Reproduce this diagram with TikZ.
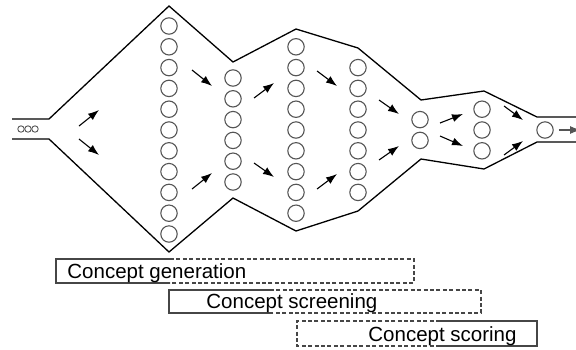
\documentclass[tikz,border=0pt]{standalone}
\usepackage{fontspec}
\setmainfont{Liberation Sans}
\usetikzlibrary{arrows.meta}
\definecolor{beadgray}{RGB}{85,85,85}
\definecolor{bargray}{RGB}{70,70,70}
\tikzset{
  outline/.style={line width=0.65pt,draw=black,line join=miter},
  bead/.style={circle,draw=beadgray,line width=0.55pt,minimum size=8.2pt,inner sep=0pt},
  seed/.style={circle,draw=beadgray,line width=0.45pt,minimum size=3.2pt,inner sep=0pt},
  flow/.style={-{Latex[length=5.5pt,width=4pt]},line width=0.55pt,draw=black},
  barline/.style={line width=0.6pt,draw=bargray},
  bardash/.style={barline,dash pattern=on 2pt off 1.2pt},
  barlabel/.style={font=\fontsize{10.25}{12}\selectfont,inner sep=0pt,anchor=base west}
}
\begin{document}
\begin{tikzpicture}[x=0.5pt,y=-0.5pt]
  \useasboundingbox (0,0) rectangle (576,349);
  % funnel
  \draw[outline] (12,119) -- (49,119) -- (169,6) -- (233,62) -- (296,29) -- (358,48) -- (421,100) -- (484,91) -- (537,117) -- (580,117);
  \draw[outline] (12,139) -- (49,139) -- (169,252) -- (233,198) -- (296,231) -- (358,211) -- (421,159) -- (484,169) -- (537,142) -- (580,142);
  \foreach \i/\x in {1/21,2/28,3/35} \node[seed] (s\i) at (\x,129) {};
  % concept columns
  \foreach \c/\x/\n in {1/169/11,2/233/6,3/296/9,4/358/7,5/420/2,6/482/3,7/545/1}
    \foreach \i in {1,...,\n}
      \node[bead] (c\c-\i) at (\x,{130+(\i-(\n+1)/2)*20.8}) {};
  \foreach \xa/\ya/\xb/\yb in {79/126/99/110, 79/139/99/155, 192/70/212/86, 192/189/212/173,
      254/98/274/83, 254/163/274/177, 317/71/337/86, 317/189/337/174, 379/100/399/114,
      379/160/399/146, 440/123/463/114, 440/136/463/146, 504/106/523/120, 504/155/523/141}
    \draw[flow] (\xa,\ya) -- (\xb,\yb);
  \coordinate (out) at (581,130);
  \draw[flow,draw=beadgray] ([xshift=2.5pt]c7-1.east) -- (out);
  % phases
  \draw[barline] (170,259) -- (56,259) -- (56,283) -- (170,283);
  \draw[bardash] (170,259) -- (414,259) -- (414,283) -- (170,283);
  \draw[barline] (270,290) -- (169,290) -- (169,313) -- (270,313);
  \draw[bardash] (270,290) -- (481,290) -- (481,313) -- (270,313);
  \draw[bardash] (440,321) -- (297,321) -- (297,346) -- (440,346);
  \draw[barline] (440,321) -- (537,321) -- (537,346) -- (440,346);
  \node[barlabel] (gen) at (67,278) {Concept generation};
  \node[barlabel] (scr) at (206,308) {Concept screening};
  \node[barlabel] (sco) at (368,341) {Concept scoring};
\end{tikzpicture}
\end{document}
